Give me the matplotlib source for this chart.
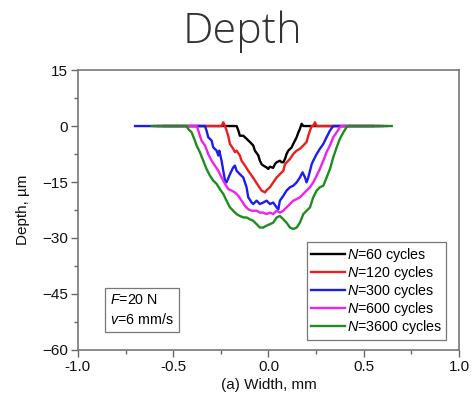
import numpy as np
import matplotlib
matplotlib.use('Agg')
import matplotlib.pyplot as plt
from matplotlib.ticker import MultipleLocator

plt.rcParams['font.family'] = ['Liberation Sans', 'DejaVu Sans']
plt.rcParams['mathtext.fontset'] = 'custom'
plt.rcParams['mathtext.rm'] = 'Liberation Sans'
plt.rcParams['mathtext.it'] = 'Liberation Sans:italic'

# wear track profiles, width in mm / depth in um
black_x = [-0.55, -0.167, -0.158, -0.150, -0.132, -0.115, -0.097, -0.080, -0.071, -0.053, -0.045,
           -0.036, -0.027, -0.010, -0.001, 0.008, 0.025, 0.034, 0.043, 0.060, 0.069, 0.078, 0.087,
           0.095, 0.104, 0.122, 0.130, 0.148, 0.157, 0.165, 0.174, 0.183, 0.55]
black_y = [0, 0, -1.2, -2.6, -2.6, -3.4, -4.3, -5.2, -6.6, -7.9, -9.3,
           -10.2, -10.6, -11.1, -11.5, -10.9, -11.2, -10.2, -9.7, -9.3, -9.7, -9.7, -8.8,
           -7.5, -6.6, -5.7, -4.8, -3.0, -1.7, -0.8, 0.6, 0, 0]

red_x = [-0.58, -0.246, -0.237, -0.228, -0.220, -0.211, -0.202, -0.185, -0.176, -0.167, -0.150,
         -0.141, -0.123, -0.106, -0.088, -0.071, -0.053, -0.036, -0.018, -0.010, 0.008, 0.025,
         0.043, 0.060, 0.078, 0.087, 0.104, 0.113, 0.130, 0.148, 0.165, 0.183, 0.200, 0.209,
         0.218, 0.227, 0.235, 0.244, 0.253, 0.58]
red_y = [0, 0, 1.0, 0, -1.2, -2.6, -4.8, -6.1, -7.0, -6.6, -7.9,
         -9.3, -10.6, -12.0, -13.3, -14.6, -16.0, -17.3, -17.8, -17.2, -16.4, -15.1,
         -13.8, -12.9, -12.0, -10.2, -9.3, -8.8, -7.5, -6.6, -6.1, -5.2, -4.3, -2.6,
         -1.2, 0, 0, 1.0, 0, 0]

blue_x = [-0.70, -0.333, -0.325, -0.316, -0.298, -0.290, -0.272, -0.263, -0.258, -0.246, -0.237,
          -0.228, -0.220, -0.202, -0.185, -0.176, -0.167, -0.150, -0.132, -0.115, -0.106, -0.088,
          -0.080, -0.062, -0.045, -0.027, -0.010, 0.008, 0.025, 0.043, 0.052, 0.060, 0.078,
          0.095, 0.113, 0.130, 0.148, 0.165, 0.179, 0.192, 0.200, 0.209, 0.218, 0.227, 0.235,
          0.253, 0.270, 0.288, 0.305, 0.323, 0.340, 0.60]
blue_y = [0, 0, -1.2, -3.0, -3.9, -5.7, -6.6, -7.9, -6.6, -9.3, -12.0,
          -14.6, -15.1, -12.9, -11.1, -10.6, -12.0, -12.9, -13.8, -16.4, -19.1, -20.5,
          -20.9, -20.0, -20.9, -20.5, -20.0, -20.9, -20.5, -21.8, -22.3, -20.0, -18.7,
          -17.3, -16.4, -16.0, -15.1, -13.8, -12.4, -13.8, -15.1, -13.8, -12.0, -10.2, -9.3,
          -7.5, -6.1, -4.8, -3.0, -1.2, 0, 0]

magenta_x = [-0.60, -0.377, -0.368, -0.360, -0.351, -0.333, -0.316, -0.298, -0.281, -0.263, -0.246,
             -0.228, -0.211, -0.193, -0.176, -0.158, -0.141, -0.123, -0.106, -0.088, -0.062,
             -0.045, -0.027, -0.010, 0.008, 0.025, 0.043, 0.060, 0.078, 0.095, 0.113, 0.130,
             0.148, 0.165, 0.183, 0.200, 0.218, 0.235, 0.253, 0.270, 0.288, 0.305, 0.323,
             0.340, 0.358, 0.375, 0.384, 0.62]
magenta_y = [0, 0, -1.2, -2.6, -3.9, -5.2, -7.5, -9.3, -10.6, -12.0, -13.8,
             -15.5, -16.9, -17.3, -17.8, -18.7, -20.0, -21.4, -22.3, -22.7, -22.7,
             -23.2, -23.2, -23.6, -23.2, -23.6, -22.7, -23.2, -22.7, -21.8, -20.9, -20.0,
             -19.6, -19.1, -18.2, -17.3, -16.4, -15.1, -13.3, -11.5, -9.3, -7.0, -5.2,
             -3.0, -1.7, -0.3, 0, 0]

green_x = [-0.613, -0.430, -0.421, -0.403, -0.386, -0.377, -0.360, -0.342, -0.325, -0.307, -0.290,
           -0.272, -0.255, -0.237, -0.220, -0.202, -0.185, -0.167, -0.150, -0.132, -0.115,
           -0.097, -0.080, -0.062, -0.045, -0.027, -0.010, 0.008, 0.025, 0.043, 0.060, 0.078,
           0.095, 0.113, 0.130, 0.148, 0.165, 0.183, 0.200, 0.218, 0.235, 0.253, 0.270, 0.288,
           0.305, 0.323, 0.340, 0.358, 0.375, 0.393, 0.410, 0.419, 0.647]
green_y = [0, 0, -0.8, -1.7, -3.9, -5.2, -7.0, -9.3, -11.5, -13.3, -14.6,
           -15.5, -16.9, -18.2, -20.0, -21.8, -22.7, -23.6, -24.1, -24.5, -24.5,
           -25.0, -25.4, -26.3, -27.2, -27.2, -26.7, -26.3, -25.9, -24.5, -24.1, -25.0,
           -25.9, -27.2, -27.6, -27.2, -25.9, -23.6, -22.7, -21.8, -19.1, -17.3, -16.4, -16.0,
           -13.8, -11.5, -8.4, -5.7, -3.4, -1.7, -0.3, 0, 0]

cycles = [60, 120, 300, 600, 3600]
colorSet = ['#000000', '#ee1c1c', '#1c1cf0', '#f020f0', '#1e8c1e']
profiles = [(black_x, black_y), (red_x, red_y), (blue_x, blue_y),
            (magenta_x, magenta_y), (green_x, green_y)]

FONTSIZE = 11
fig = plt.figure(figsize=(4.72, 4.05), dpi=100)
ax = fig.add_axes([0.165, 0.136, 0.8075, 0.691])

for (x, y), n, c in zip(profiles, cycles, colorSet):
    ax.plot(x, y, color=c, lw=1.7, label=f'$N$={n} cycles')

ax.set_xlim(-1.0, 1.0)
ax.set_ylim(-60, 15)
ax.xaxis.set_major_locator(MultipleLocator(0.5))
ax.xaxis.set_minor_locator(MultipleLocator(0.25))
ax.yaxis.set_major_locator(MultipleLocator(15))
ax.yaxis.set_minor_locator(MultipleLocator(7.5))
ax.xaxis.set_major_formatter(plt.FormatStrFormatter('%.1f'))
ax.tick_params(which='major', direction='out', length=5, width=1, color='#666666',
               labelsize=FONTSIZE, labelcolor='#111111', pad=2)
ax.tick_params(which='minor', direction='out', length=3, width=1, color='#666666')
for sp in ax.spines.values():
    sp.set_color('#777777')
    sp.set_linewidth(1.2)

ax.set_xlabel('(a) Width, mm', fontsize=FONTSIZE, color='#111111', labelpad=3)
ax.set_ylabel('Depth, µm', fontsize=FONTSIZE, color='#111111', labelpad=9)

leg = ax.legend(loc='lower right', bbox_to_anchor=(0.966, 0.037), fontsize=10.3,
                fancybox=False, framealpha=1, edgecolor='#777777', handlelength=2.4,
                labelspacing=0.0, borderpad=0.25, handletextpad=0.15, borderaxespad=0)
leg.get_frame().set_linewidth(0.9)

ax.text(-0.83, -44.8, '$F$=20 N\n$v$=6 mm/s', fontsize=10.3, va='top', ha='left',
        linespacing=1.4,
        bbox=dict(boxstyle='square,pad=0.35', fc='white', ec='#777777', lw=0.9))

fig.text(242 / 472, 0.893, 'Depth', ha='center', va='baseline', fontsize=31,
         family=['Open Sans', 'DejaVu Sans'], fontweight='light', color='#333333')

fig.savefig('out.png', dpi=100)
